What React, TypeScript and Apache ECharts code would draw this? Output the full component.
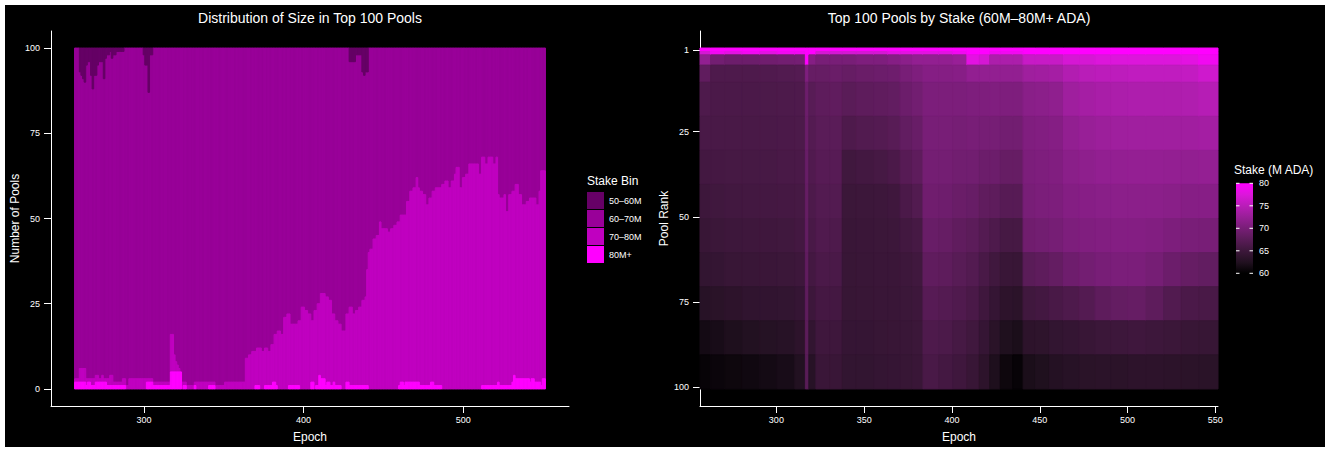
import React, { useEffect, useRef } from "react";
import * as echarts from "echarts";

// ---------- Left chart: counts of top-100 pools per stake bin, per epoch (257..551) ----------
const firstEpoch = 257;
const lastEpoch = 551;

const count80Plus = [
  2,2,2,2,2,2,2,1,2,2,
  1,1,1,2,2,2,2,2,2,2,
  1,1,1,1,1,1,1,1,1,1,
  1,1,0,0,0,0,0,0,0,0,
  0,0,0,0,0,2,2,2,2,1,
  1,1,1,1,1,1,1,1,1,1,
  5,5,5,5,5,5,5,0,1,1,
  0,0,0,0,0,1,0,0,0,0,
  0,0,0,0,1,1,1,1,0,0,
  0,0,0,0,0,0,0,0,0,0,
  0,0,0,0,0,0,0,0,0,0,
  0,0,0,1,1,1,0,0,0,1,
  1,1,1,1,2,2,1,0,0,0,
  0,0,0,0,1,1,1,1,1,1,
  1,0,0,0,0,0,0,0,2,2,
  0,1,1,4,3,3,3,1,2,2,
  1,1,2,1,1,1,1,0,0,0,
  2,2,1,1,1,1,1,1,1,1,
  1,1,1,1,0,0,0,0,0,0,
  0,0,0,0,0,0,0,0,0,0,
  0,0,0,1,2,2,1,2,2,2,
  2,2,2,2,2,2,1,1,1,1,
  1,1,1,2,2,1,1,1,1,1,
  0,0,0,0,0,0,0,0,0,0,
  0,0,0,0,0,0,0,0,0,0,
  0,0,0,0,0,1,1,1,1,1,
  1,1,1,1,1,2,1,1,1,1,
  1,1,1,1,2,4,3,3,3,3,
  3,3,3,3,3,2,3,3,2,2,
  2,2,1,3,3,
];

const count70to80 = [
  1,1,1,4,4,4,4,2,1,1,
  2,2,2,2,2,1,1,2,1,1,
  2,2,3,3,1,1,1,1,1,1,
  2,2,1,1,3,3,3,3,3,3,
  3,3,3,3,3,1,1,1,1,1,
  1,1,1,1,1,1,1,1,1,1,
  11,11,5,3,2,1,0,2,1,1,
  1,1,1,1,1,1,2,2,2,2,
  2,2,2,2,1,1,1,1,1,1,
  1,1,1,1,2,2,2,2,2,2,
  2,2,2,2,2,2,2,9,9,10,
  10,11,11,10,11,11,12,11,11,11,
  11,10,10,12,11,14,15,17,17,16,
  16,21,21,22,21,18,18,18,18,18,
  19,20,24,24,23,23,22,22,18,18,
  23,22,24,21,25,25,25,26,25,24,
  25,21,20,19,19,18,18,17,17,17,
  20,20,23,23,21,21,22,22,23,23,
  25,25,26,34,40,41,41,44,44,45,
  45,49,47,47,47,47,46,46,47,47,
  48,48,49,48,49,49,50,49,53,53,
  56,56,57,57,60,57,57,57,56,56,
  53,53,55,54,56,57,58,58,58,58,
  60,60,61,61,59,59,61,61,63,65,
  65,59,59,62,62,63,63,66,66,66,
  66,66,66,63,63,67,67,65,65,67,
  67,67,65,65,67,55,55,55,55,56,
  51,51,56,56,56,54,57,57,54,54,
  51,51,51,52,52,54,53,53,54,52,
  52,56,63,61,61,
];

const count50to60 = [
  0,0,0,7,8,9,10,5,4,4,
  8,12,8,8,5,4,4,4,9,3,
  2,2,1,3,2,2,1,1,1,1,
  1,0,0,0,0,0,0,0,0,0,
  0,0,0,2,5,5,13,2,2,0,
  0,0,0,0,0,0,0,0,0,0,
  0,0,0,0,0,0,0,0,0,0,
  0,0,0,0,0,0,0,0,0,0,
  0,0,0,0,0,0,0,0,0,0,
  0,0,0,0,0,0,0,0,0,0,
  0,0,0,0,0,0,0,0,0,0,
  0,0,0,0,0,0,0,0,0,0,
  0,0,0,0,0,0,0,0,0,0,
  0,0,0,0,0,0,0,0,0,0,
  0,0,0,0,0,0,0,0,0,0,
  0,0,0,0,0,0,0,0,0,0,
  0,0,0,0,0,0,0,0,0,0,
  0,0,4,4,4,4,2,2,2,2,
  7,8,7,7,0,0,0,0,0,0,
  0,0,0,0,0,0,0,0,0,0,
  0,0,0,0,0,0,0,0,0,0,
  0,0,0,0,0,0,0,0,0,0,
  0,0,0,0,0,0,0,0,0,0,
  0,0,0,0,0,0,0,0,0,0,
  0,0,0,0,0,0,0,0,0,0,
  0,0,0,0,0,0,0,0,0,0,
  0,0,0,0,0,0,0,0,0,0,
  0,0,0,0,0,0,0,0,0,0,
  0,0,0,0,0,0,0,0,0,0,
  0,0,0,0,0,
];

const binNames = ["50–60M", "60–70M", "70–80M", "80M+"];
const binColors = ["#660066", "#990099", "#C000C0", "#FF00FF"];
const countTicks = [0, 25, 50, 75, 100];
const leftEpochTicks = [300, 400, 500];

// ---------- Right chart: stake (M ADA) by pool rank, epoch blocks x rank groups ----------
const blockStart = [257,263,271,281,291,301,311,317,319,323,331,338,346,356,364,371,378,384,393,401,409,416,422,428,435,441,448,456,464,473,482,491,501,511,521,531,541];
const rankGroupStart = [1, 2, 3, 6, 11, 21, 31, 41, 51, 61, 71, 81, 91];
const rankGroupEnd = [1, 2, 5, 10, 20, 30, 40, 50, 60, 70, 80, 90, 100];

const stakeRank1 = [81,81,81,81,81,81,81,84,82,81,81,81,81,81,81,81,81,81,81,81,84,84,81,81,81,82,82,82,82,82,82,82,82,82,82,82,83];
const stakeRank2 = [77,79,78,79,78,79,79,82,80.5,77,77,77,77,77,78,78,78,78,78,79,81,81,79,79,79,80.5,80.5,80.5,80,80,80,80,80,80,80,80,81];
const stakeRank3to5 = [72,69.5,69,69,69.3,69.5,69.7,80.5,71,70,70,70,70.5,70.5,71,71.5,72,72,72,72.5,78,77,74,74,74,76,76,76,77,77,77.5,77.5,77.5,77.5,77.5,78,79];
const stakeRank6to10 = [68,66.5,66.5,66.5,66.6,66.8,67,70.5,68.5,68.5,68.8,68.5,68.8,69,69.2,70,70.5,71,71,71.2,72,72,72,72,72,73,73.2,73.5,74.5,75,75.2,75.3,75.5,75.5,75.5,75.7,76.5];
const stakeRank11to20 = [66.5,66.2,66.2,66.2,66.3,66.4,66.5,69,67.3,67.8,68,67.5,67.8,68,68.2,69,69.5,70.3,70.3,70.3,70.5,70.5,70.6,70.5,70.5,71.3,71.5,71.8,73,73.5,73.8,74,74.2,74.2,74.2,74.3,74.8];
const stakeRank21to30 = [66,66,66,66,66.1,66.2,66.3,68.8,67,67.5,67.5,66.5,66.8,67,67.3,68.2,68.7,70,70,69.8,70,69.8,69.8,69.5,69.5,70.6,70.8,71,72,72.5,72.8,73,73.1,73.1,73.1,73.2,73.4];
const stakeRank31to40 = [65.5,65.7,65.8,65.8,65.9,66,66.1,68.6,66.7,67.2,67.2,65.3,65.5,65.8,66.2,67.2,67.8,69.7,69.7,69.4,69.4,69,69,68.5,68.5,70.3,70.5,70.7,71.4,71.7,72,72.1,72.2,72.2,72.1,72,72.2];
const stakeRank41to50 = [65,65.3,65.4,65.5,65.6,65.7,65.8,68.4,66.4,66.9,66.9,64.8,64.9,65,65.2,66.2,66.8,69.3,69.2,68.8,68.6,68,67.8,67.2,67.2,70,70.2,70.4,70.9,71.2,71.3,71.5,71.5,71.5,71.3,71.1,71.2];
const stakeRank51to60 = [64.5,64.8,65,65.1,65.2,65.3,65.5,68.2,66,66.6,66.5,64.6,64.7,64.8,64.9,65.4,65.8,68.7,68.5,68,67.7,67,66.5,65.8,65.8,69.3,69.5,69.8,70.4,70.6,70.8,70.9,70.9,70.8,70.4,70.1,70];
const stakeRank61to70 = [64,64.2,64.5,64.6,64.7,64.8,65,68,65.6,66.2,66.1,64.5,64.6,64.7,64.7,65,65.3,68,67.8,67.3,66.9,66,65.3,64.6,64.5,67.5,67.8,68.3,69.2,69.6,70,70.2,70.2,69.8,69,68.5,68.2];
const stakeRank71to80 = [63,63.2,63.5,63.8,63.9,64,64.3,67.8,65,65.7,65.6,64.4,64.5,64.6,64.6,64.8,65,67.2,67,66.6,66.1,65.2,64.3,63.5,63.3,65.3,65.5,66,66.5,67,67.8,68.3,68.5,67.8,66.8,66.2,66];
const stakeRank81to90 = [61.5,61.8,62.2,62.5,62.8,63,63.5,67.6,64,65.2,65.1,64.3,64.3,64.4,64.5,64.6,64.8,66.5,66.3,65.8,65.3,64.3,63.2,62.3,62,63.5,63.6,64,64.2,64.5,64.8,65,65.2,65,64.8,64.5,64.4];
const stakeRank91to100 = [60.5,60.8,61,61.2,61.5,61.8,62.5,67.3,63,64.7,64.6,64,64,64.2,64.3,64.4,64.6,66,65.6,65.2,64.5,63.5,62.2,61,60.5,62,62.3,62.7,63,63.2,63.3,63.3,63.5,63.5,63.4,63.3,63.2];

const rankTicks = [1, 25, 50, 75, 100];
const rightEpochTicks = [300, 350, 400, 450, 500, 550];
const stakeTicks = [60, 65, 70, 75, 80];
const stakeMin = 60;
const stakeMax = 80;
const stakePalette = ["#000000", "#221121", "#3D173B", "#5A1C58", "#781E77", "#981F97", "#B91DB8", "#DC16DB", "#FF00FF"];

const FONT = "'Liberation Sans', Arial, Helvetica, sans-serif";

function buildOption() {
  const stakeGroups = [
    stakeRank1, stakeRank2, stakeRank3to5, stakeRank6to10, stakeRank11to20, stakeRank21to30,
    stakeRank31to40, stakeRank41to50, stakeRank51to60, stakeRank61to70, stakeRank71to80,
    stakeRank81to90, stakeRank91to100,
  ];

  // stacked ranges per bin: [epoch, lower, upper]
  const stacks: number[][][] = [[], [], [], []];
  for (let i = 0; i < count80Plus.length; i++) {
    const e = firstEpoch + i;
    const a = count80Plus[i];
    const b = a + count70to80[i];
    const top60 = 100 - count50to60[i];
    if (a > 0) stacks[3].push([e, 0, a]);
    if (b > a) stacks[2].push([e, a, b]);
    if (top60 > b) stacks[1].push([e, b, top60]);
    if (100 > top60) stacks[0].push([e, top60, 100]);
  }

  const barRender = (color: string) => (params: any, api: any) => {
    const e = api.value(0);
    const lo = api.value(1);
    const hi = api.value(2);
    const p0 = api.coord([e - 0.5, hi]);
    const p1 = api.coord([e + 0.5, lo]);
    return {
      type: "rect",
      shape: { x: p0[0], y: p0[1], width: p1[0] - p0[0], height: p1[1] - p0[1] },
      style: { fill: color, stroke: color, lineWidth: 1 },
    };
  };

  const barSeries = binNames.map((name, k) => ({
    type: "custom",
    name,
    xAxisIndex: 0,
    yAxisIndex: 0,
    itemStyle: { color: binColors[k] },
    renderItem: barRender(binColors[k]),
    encode: { x: 0, y: [1, 2] },
    data: stacks[k],
    silent: true,
    z: k === 1 ? 1 : 2,
  }));

  const cells: number[][] = [];
  for (let b = 0; b < blockStart.length; b++) {
    const s = blockStart[b];
    const end = b + 1 < blockStart.length ? blockStart[b + 1] - 1 : lastEpoch;
    for (let g = 0; g < rankGroupStart.length; g++) {
      cells.push([s - 0.5, end + 0.5, rankGroupStart[g] - 0.5, rankGroupEnd[g] + 0.5, stakeGroups[g][b]]);
    }
  }

  const heatSeries = {
    type: "custom",
    name: "stake",
    xAxisIndex: 1,
    yAxisIndex: 1,
    encode: { x: [0, 1], y: [2, 3] },
    data: cells,
    silent: true,
    renderItem: (params: any, api: any) => {
      const p0 = api.coord([api.value(0), api.value(2)]);
      const p1 = api.coord([api.value(1), api.value(3)]);
      const color = api.visual("color");
      return {
        type: "rect",
        shape: {
          x: p0[0],
          y: Math.min(p0[1], p1[1]),
          width: p1[0] - p0[0],
          height: Math.abs(p1[1] - p0[1]),
        },
        style: { fill: color, stroke: color, lineWidth: 1 },
      };
    },
  };

  const axisCommon = {
    axisLine: { show: true, onZero: false, lineStyle: { color: "#FFFFFF", width: 1 } },
    axisTick: { show: true, length: 7, lineStyle: { color: "#FFFFFF", width: 1 } },
    splitLine: { show: false },
    nameTextStyle: { color: "#FFFFFF", fontSize: 12, fontFamily: FONT },
  };
  const labelStyle = { color: "#FFFFFF", fontSize: 9, fontFamily: FONT };

  // colour bar legend (right)
  const cbX = 1236, cbTop = 183.3, cbW = 17, cbH = 90;
  const cbY = (v: number) => cbTop + cbH - ((v - stakeMin) / (stakeMax - stakeMin)) * cbH;
  const gradientStops = stakePalette
    .map((c, i) => ({ offset: 1 - i / (stakePalette.length - 1), color: c }))
    .reverse();
  const cbElements: any[] = [
    {
      type: "rect",
      shape: { x: cbX, y: cbTop, width: cbW, height: cbH },
      style: { fill: new echarts.graphic.LinearGradient(0, 0, 0, 1, gradientStops) },
      z: 5,
    },
    {
      type: "text",
      x: 1234,
      y: 170,
      style: { text: "Stake (M ADA)", fill: "#FFFFFF", fontSize: 12, fontFamily: FONT, verticalAlign: "middle", align: "left" },
    },
  ];
  stakeTicks.forEach((v) => {
    const y = cbY(v);
    cbElements.push(
      { type: "line", shape: { x1: cbX, y1: y, x2: cbX + 3.5, y2: y }, style: { stroke: "#FFFFFF", lineWidth: 1 }, z: 6 },
      { type: "line", shape: { x1: cbX + cbW - 3.5, y1: y, x2: cbX + cbW, y2: y }, style: { stroke: "#FFFFFF", lineWidth: 1 }, z: 6 },
      {
        type: "text",
        x: 1259,
        y,
        style: { text: String(v), fill: "#FFFFFF", fontSize: 9, fontFamily: FONT, verticalAlign: "middle", align: "left" },
        z: 6,
      }
    );
  });

  return {
    animation: false,
    backgroundColor: "#FFFFFF",
    textStyle: { fontFamily: FONT },
    graphic: [
      { type: "rect", shape: { x: 5, y: 5, width: 1320, height: 442 }, style: { fill: "#000000" }, z: -10 },
      {
        type: "text",
        x: 310,
        y: 18,
        style: { text: "Distribution of Size in Top 100 Pools", fill: "#FFFFFF", fontSize: 14, fontFamily: FONT, align: "center", verticalAlign: "middle" },
      },
      {
        type: "text",
        x: 959,
        y: 18,
        style: { text: "Top 100 Pools by Stake (60M–80M+ ADA)", fill: "#FFFFFF", fontSize: 14, fontFamily: FONT, align: "center", verticalAlign: "middle" },
      },
      {
        type: "text",
        x: 587,
        y: 181,
        style: { text: "Stake Bin", fill: "#FFFFFF", fontSize: 12, fontFamily: FONT, align: "left", verticalAlign: "middle" },
      },
      ...cbElements,
    ],
    grid: [
      { left: 51, top: 31, width: 518, height: 375 },
      { left: 700, top: 31, width: 518, height: 375 },
    ],
    xAxis: [
      {
        gridIndex: 0,
        type: "value",
        min: 241.75,
        max: 566.25,
        name: "Epoch",
        nameLocation: "middle",
        nameGap: 25,
        ...axisCommon,
        axisTick: { ...axisCommon.axisTick, customValues: leftEpochTicks },
        axisLabel: { ...labelStyle, margin: 9, customValues: leftEpochTicks },
      },
      {
        gridIndex: 1,
        type: "value",
        min: 256.5,
        max: 551.5,
        name: "Epoch",
        nameLocation: "middle",
        nameGap: 25,
        ...axisCommon,
        axisTick: { ...axisCommon.axisTick, customValues: rightEpochTicks },
        axisLabel: { ...labelStyle, margin: 9, customValues: rightEpochTicks },
      },
    ],
    yAxis: [
      {
        gridIndex: 0,
        type: "value",
        min: -5,
        max: 105,
        name: "Number of Pools",
        nameLocation: "middle",
        nameGap: 28,
        ...axisCommon,
        axisTick: { ...axisCommon.axisTick, customValues: countTicks },
        axisLabel: { ...labelStyle, margin: 11, customValues: countTicks },
      },
      {
        gridIndex: 1,
        type: "value",
        inverse: true,
        min: -4.5,
        max: 105.5,
        name: "Pool Rank",
        nameLocation: "middle",
        nameGap: 27,
        ...axisCommon,
        axisTick: { ...axisCommon.axisTick, customValues: rankTicks },
        axisLabel: { ...labelStyle, margin: 11, customValues: rankTicks },
      },
    ],
    legend: {
      data: binNames,
      orient: "vertical",
      left: 587,
      top: 192,
      itemWidth: 17,
      itemHeight: 17,
      itemGap: 1,
      padding: 0,
      icon: "rect",
      selectedMode: false,
      textStyle: { color: "#FFFFFF", fontSize: 9, fontFamily: FONT },
    },
    visualMap: {
      type: "continuous",
      show: false,
      min: stakeMin,
      max: stakeMax,
      dimension: 4,
      seriesIndex: 4,
      inRange: { color: stakePalette },
      outOfRange: { color: ["#FF00FF"] },
    },
    series: [...barSeries, heatSeries],
  };
}

export default function App() {
  const ref = useRef<HTMLDivElement>(null);
  useEffect(() => {
    if (!ref.current) return;
    const chart = echarts.init(ref.current, undefined, { renderer: "svg" });
    chart.setOption(buildOption() as any);
    return () => chart.dispose();
  }, []);
  return (
    <div
      ref={ref}
      style={{ position: "fixed", left: 0, top: 0, width: 1330, height: 454, background: "#FFFFFF" }}
    />
  );
}
